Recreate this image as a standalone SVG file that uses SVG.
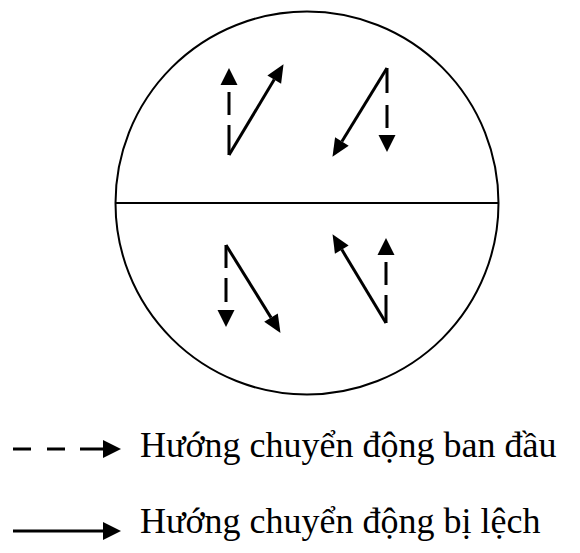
<svg xmlns="http://www.w3.org/2000/svg" width="580" height="553" viewBox="0 0 580 553">
<style>
.ln{stroke:#000;stroke-width:3;fill:none}
.hd{fill:#000}
.tx{font-family:"Liberation Serif","Times New Roman",serif;font-size:36px;fill:#000}
</style>
<defs>
<marker id="ah" markerUnits="userSpaceOnUse" markerWidth="18" markerHeight="18" viewBox="0 -9 18 18" refX="0" refY="0" orient="auto" overflow="visible">
<path d="M0,-8 L18,0 L0,8 z" fill="#000"/>
</marker>
</defs>
<rect width="580" height="553" fill="#fff"/>
<g id="globe">
<circle cx="307" cy="203" r="191.5" fill="none" stroke="#000" stroke-width="2"/>
<line x1="115.5" y1="203" x2="498.5" y2="203" stroke="#000" stroke-width="2"/>
</g>
<g id="connectors">
<!-- top-left -->
<path class="ln" d="M229,155 V125 M229,115 V92"/>
<polygon class="hd" points="229,68 220.5,85 237.5,85"/>
<line class="ln" x1="229" y1="155" x2="274.25" y2="79.58" marker-end="url(#ah)"/>
<!-- top-right -->
<path class="ln" d="M387,68 V93 M387,105 V128"/>
<polygon class="hd" points="387,152 378.5,135 395.5,135"/>
<line class="ln" x1="387" y1="68" x2="341.9" y2="141.5" marker-end="url(#ah)"/>
<!-- bottom-left -->
<path class="ln" d="M226,245 V268 M226,278 V302"/>
<polygon class="hd" points="226,327 217.5,310 234.5,310"/>
<line class="ln" x1="226" y1="245" x2="271" y2="317.6" marker-end="url(#ah)"/>
<!-- bottom-right -->
<path class="ln" d="M386,323 V295 M386,285 V262"/>
<polygon class="hd" points="386,238 377.5,255 394.5,255"/>
<line class="ln" x1="386" y1="323" x2="341.8" y2="249.6" marker-end="url(#ah)"/>
</g>
<g id="legend">
<path class="ln" d="M13,449 H31 M47,449 H65 M80,449 H104"/>
<polygon class="hd" points="121,449 103,440 103,458"/>
<text class="tx" x="140" y="457">Hướng chuyển động ban đầu</text>
<path class="ln" d="M13,531 H104"/>
<polygon class="hd" points="121,531 103,522 103,540"/>
<text class="tx" x="140" y="533">Hướng chuyển động bị lệch</text>
</g>
</svg>
